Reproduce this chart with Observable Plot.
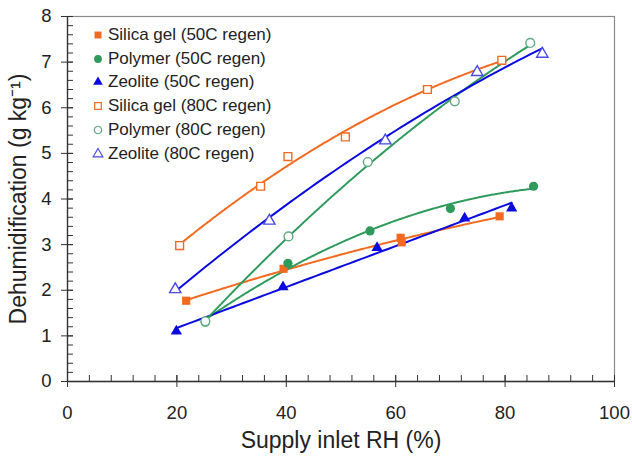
<!DOCTYPE html>
<html>
<head>
<meta charset="utf-8">
<script src="https://cdn.jsdelivr.net/npm/d3@7"></script>
<script src="https://cdn.jsdelivr.net/npm/@observablehq/plot@0.6"></script>
<style>
  body { margin: 0; background: #fff; font-family: "Liberation Sans", Arial, sans-serif; }
  #wrap { position: relative; width: 632px; height: 459px; }
  #legend { position: absolute; left: 91px; top: 23px; font-size: 17px; color: #222; }
  #legend .row { height: 23.8px; display: flex; align-items: center; white-space: nowrap; }
  #legend svg { width: 14px; height: 14px; margin-right: 3px; }
  svg [aria-label="x-axis tick label"] text, svg [aria-label="y-axis tick label"] text { font-size: 18.5px !important; fill: #222; }
  svg [aria-label="x-axis label"] text { font-size: 23px !important; fill: #222; }
  svg [aria-label="y-axis label"] text { font-size: 23px !important; fill: #222; }
</style>
</head>
<body>
<div id="wrap"></div>
<script>
// ---- data ----
const silica50X  = [21.7, 39.5, 60.9, 61.1, 79.0];
const silica50Y  = [1.77, 2.47, 3.15, 3.05, 3.62];
const polymer50X = [25.2, 40.3, 55.3, 70.0, 85.2];
const polymer50Y = [1.30, 2.59, 3.30, 3.79, 4.28];
const zeolite50X = [19.9, 39.4, 56.6, 72.6, 81.2];
const zeolite50Y = [1.10, 2.07, 2.93, 3.58, 3.80];
const silica80X  = [20.5, 35.3, 40.3, 50.8, 65.8, 79.4];
const silica80Y  = [2.98, 4.28, 4.93, 5.36, 6.40, 7.04];
const polymer80X = [25.2, 40.4, 54.9, 70.8, 84.6];
const polymer80Y = [1.32, 3.18, 4.81, 6.14, 7.42];
const zeolite80X = [19.7, 36.9, 58.1, 74.9, 86.8];
const zeolite80Y = [2.02, 3.52, 5.28, 6.78, 7.18];

const seriesNames = ["Silica gel (50C regen)", "Polymer (50C regen)", "Zeolite (50C regen)",
                     "Silica gel (80C regen)", "Polymer (80C regen)", "Zeolite (80C regen)"];
const xTicks = [0, 20, 40, 60, 80, 100];
const yTicks = [0, 1, 2, 3, 4, 5, 6, 7, 8];

const ORANGE = "#f26a1f", GREEN = "#2e9a5c", BLUE = "#0a0ae0";
const GREEN_OPEN = "#5fa882", BLUE_OPEN = "#4a4ae0";

const series = [
  {name: seriesNames[0], xs: silica50X,  ys: silica50Y,  symbol: "square",   fill: ORANGE, stroke: "none", line: ORANGE, dash: "3.5,1.2", r: 4.6, deg: 2},
  {name: seriesNames[1], xs: polymer50X, ys: polymer50Y, symbol: "circle",   fill: GREEN,  stroke: "none", line: GREEN,  dash: "1.6,1",   r: 4.6, deg: 2},
  {name: seriesNames[2], xs: zeolite50X, ys: zeolite50Y, symbol: "triangle", fill: BLUE,   stroke: "none", line: BLUE,   dash: null,      r: 4.2, deg: 1},
  {name: seriesNames[3], xs: silica80X,  ys: silica80Y,  symbol: "square",   fill: "#fff", stroke: ORANGE, line: ORANGE, dash: "3.5,1.2", r: 4.4, deg: 2},
  {name: seriesNames[4], xs: polymer80X, ys: polymer80Y, symbol: "circle",   fill: "#fff", stroke: GREEN_OPEN, line: GREEN, dash: "1.6,1", r: 4.4, deg: 2},
  {name: seriesNames[5], xs: zeolite80X, ys: zeolite80Y, symbol: "triangle", fill: "#fff", stroke: BLUE_OPEN, line: BLUE, dash: null,   r: 4.2, deg: 2}
];

// least-squares polynomial trendline (as in the original spreadsheet trendlines)
function polyFit(xs, ys, deg) {
  const m = deg + 1;
  const A = [];
  for (let i = 0; i < m; i++) {
    const row = [];
    for (let j = 0; j < m; j++) row.push(d3.sum(xs, x => x ** (i + j)));
    row.push(d3.sum(xs, (x, k) => ys[k] * x ** i));
    A.push(row);
  }
  for (let i = 0; i < m; i++) {
    for (let k = i + 1; k < m; k++) {
      const f = A[k][i] / A[i][i];
      for (let j = i; j <= m; j++) A[k][j] -= f * A[i][j];
    }
  }
  const c = new Array(m).fill(0);
  for (let i = m - 1; i >= 0; i--) {
    let s = A[i][m];
    for (let j = i + 1; j < m; j++) s -= A[i][j] * c[j];
    c[i] = s / A[i][i];
  }
  return c;
}

const marks = [];
for (const s of series) {
  const c = polyFit(s.xs, s.ys, s.deg);
  const [lo, hi] = d3.extent(s.xs);
  const pts = d3.range(0, 61).map(i => {
    const x = lo + (hi - lo) * i / 60;
    return {x, y: d3.sum(c, (ci, k) => ci * x ** k)};
  });
  marks.push(Plot.line(pts, {x: "x", y: "y", stroke: s.line, strokeWidth: 2, strokeDasharray: s.dash || undefined}));
}
for (const s of series) {
  const pts = s.xs.map((x, i) => ({x, y: s.ys[i]}));
  marks.push(Plot.dot(pts, {x: "x", y: "y", symbol: () => s.symbol, fill: s.fill, stroke: s.stroke, strokeWidth: 1.4, r: s.r}));
}

const chart = Plot.plot({
  width: 632, height: 459,
  marginLeft: 67, marginRight: 18, marginTop: 16, marginBottom: 78,
  style: {fontFamily: "'Liberation Sans', Arial, sans-serif", background: "#fff"},
  x: {domain: [0, 100]},
  y: {domain: [0, 8]},
  symbol: {type: "identity"},
  marks: [
    Plot.frame({stroke: "#8a8a8a", strokeWidth: 1.2}),
    // minor ticks (inward)
    Plot.axisX({ticks: d3.range(0, 101, 4), tickSize: -6, text: null, label: null, stroke: "#333"}),
    Plot.axisY({ticks: d3.range(0, 8.01, 0.2), tickSize: -6, text: null, label: null, stroke: "#333"}),
    // major ticks crossing the axis
    Plot.axisX({ticks: xTicks, tickSize: -6, text: null, label: null, stroke: "#333"}),
    Plot.axisY({ticks: yTicks, tickSize: -6, text: null, label: null, stroke: "#333"}),
    Plot.axisX({ticks: xTicks, tickSize: 6, tickPadding: 18, tickFormat: d3.format("d"), stroke: "#333", fontSize: 18.5,
                label: "Supply inlet RH (%)", labelAnchor: "center", labelArrow: "none", labelOffset: 66}),
    Plot.axisY({ticks: yTicks, tickSize: 6, tickPadding: 10, tickFormat: d3.format("d"), stroke: "#333", fontSize: 18.5,
                label: "Dehumidification (g kg\u207B\u00B9)", labelAnchor: "center", labelArrow: "none", labelOffset: 58}),
    Plot.ruleX([0], {stroke: "#333", strokeWidth: 1.3}),
    Plot.ruleY([0], {stroke: "#333", strokeWidth: 1.3}),
    ...marks
  ]
});

const wrap = document.getElementById("wrap");
wrap.appendChild(chart);

// legend inside plot area
const legend = document.createElement("div");
legend.id = "legend";
const symPath = {square: d3.symbolSquare, circle: d3.symbolCircle, triangle: d3.symbolTriangle};
for (const s of series) {
  const row = document.createElement("div");
  row.className = "row";
  const area = Math.PI * (s.r * 0.85) ** 2;
  const p = d3.symbol(symPath[s.symbol], area)();
  row.innerHTML = `<svg viewBox="-7 -7 14 14"><path d="${p}" fill="${s.fill}" stroke="${s.stroke}" stroke-width="1.2"/></svg><span>${s.name}</span>`;
  legend.appendChild(row);
}
wrap.appendChild(legend);
</script>
</body>
</html>
